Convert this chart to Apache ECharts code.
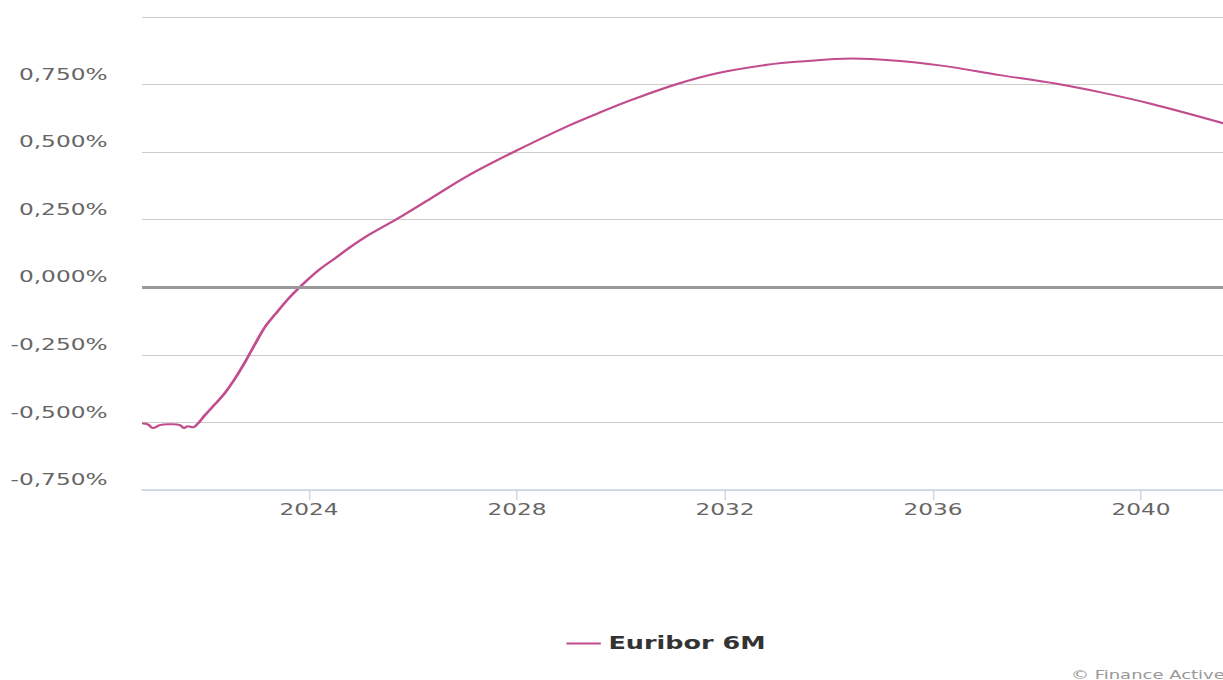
<!DOCTYPE html>
<html>
<head>
<meta charset="utf-8">
<script src="https://cdn.jsdelivr.net/npm/echarts@6/dist/echarts.min.js"></script>
<style>
  html, body { margin: 0; padding: 0; background: #fff; }
  #outer { width: 1223px; height: 680px; overflow: hidden; position: relative; background: #fff; }
  #chart { width: 888px; height: 680px; transform: scaleX(1.5); transform-origin: 0 0; position: absolute; left: 0; top: 0; }
</style>
</head>
<body>
<div id="outer"><div id="chart"></div></div>
<script>
// Decimal years
const years = [2020.79, 2020.90, 2021.00, 2021.13, 2021.29, 2021.38, 2021.52, 2021.60, 2021.67, 2021.77, 2021.85,
  2022.00, 2022.19, 2022.38, 2022.58, 2022.77, 2022.96, 2023.15, 2023.35, 2023.63, 2023.92,
  2024.21, 2024.50, 2024.79, 2025.17, 2025.75, 2026.38, 2027.04, 2027.92, 2028.96, 2029.60,
  2030.23, 2031.08, 2031.85, 2032.81, 2033.44, 2034.44, 2035.17, 2036.13, 2037.29, 2038.38,
  2039.21, 2040.17, 2041.58, 2042.30, 2043.25];
// Euribor 6M forward curve, percent
const euribor6M = [-0.503, -0.507, -0.521, -0.510, -0.507, -0.507, -0.510, -0.521, -0.514, -0.518, -0.507,
  -0.473, -0.433, -0.392, -0.337, -0.277, -0.211, -0.148, -0.100, -0.037, 0.018,
  0.067, 0.107, 0.148, 0.196, 0.259, 0.333, 0.411, 0.499, 0.595, 0.647,
  0.695, 0.752, 0.792, 0.823, 0.835, 0.846, 0.840, 0.821, 0.785, 0.753,
  0.722, 0.680, 0.607, 0.565, 0.500];
const xTicks = [2024, 2028, 2032, 2036, 2040];
const seriesName = 'Euribor 6M';
const credits = '© Finance Active';

const chart = echarts.init(document.getElementById('chart'), null, { renderer: 'svg', width: 888, height: 680 });
const font = 'DejaVu Sans';
chart.setOption({
  animation: false,
  backgroundColor: '#ffffff',
  grid: { left: 94.7, right: 14.7, top: 17, bottom: 190, containLabel: false },
  legend: {
    data: [{ name: seriesName, icon: 'rect' }],
    left: 'center',
    top: 630,
    itemWidth: 23,
    itemHeight: 2,
    itemGap: 7,
    textStyle: { fontFamily: font, fontSize: 17, fontWeight: 'bold', color: '#333333' }
  },
  xAxis: {
    type: 'value',
    min: 2020.79,
    max: 2043.25,
    splitLine: { show: false },
    axisLine: { show: true, onZero: false, lineStyle: { color: '#ccd6eb', width: 1.5 } },
    axisTick: { show: true, customValues: xTicks, length: 10, lineStyle: { color: '#ccd6eb', width: 1 } },
    axisLabel: {
      customValues: xTicks,
      margin: 12,
      color: '#666666',
      fontFamily: font,
      fontSize: 15.5,
      formatter: v => String(Math.round(v))
    }
  },
  yAxis: {
    type: 'value',
    min: -0.75,
    max: 1.0,
    interval: 0.25,
    axisLine: { show: false },
    axisTick: { show: false },
    splitLine: { show: true, lineStyle: { color: '#cccccc', width: 1 } },
    axisLabel: {
      margin: 23,
      color: '#666666',
      fontFamily: font,
      fontSize: 15.5,
      verticalAlign: 'bottom',
      lineHeight: 20,
      formatter: v => (Math.abs(v - 1) < 1e-9 ? '' : v.toFixed(3).replace('.', ',') + '%')
    }
  },
  series: [{
    name: seriesName,
    type: 'line',
    data: years.map((y, i) => [y, euribor6M[i]]),
    symbol: 'none',
    smooth: 0.35,
    lineStyle: { color: '#c24d8e', width: 2 },
    itemStyle: { color: '#c24d8e' },
    markLine: {
      silent: true,
      symbol: 'none',
      label: { show: false },
      lineStyle: { color: '#999999', width: 3, type: 'solid' },
      data: [{ yAxis: 0 }]
    }
  }],
  graphic: [{
    type: 'text',
    left: 714,
    top: 669,
    style: { text: credits, fill: '#999999', font: '12px DejaVu Sans' }
  }]
});
</script>
</body>
</html>
